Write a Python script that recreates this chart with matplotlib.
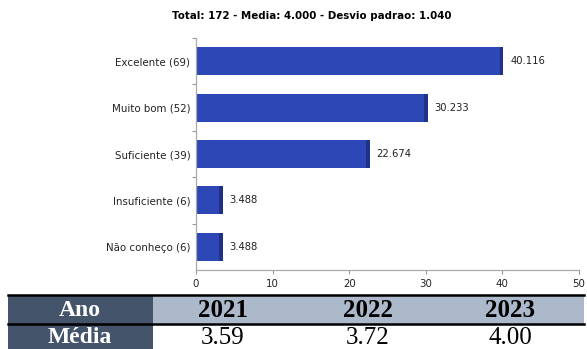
import matplotlib.pyplot as plt
from matplotlib.patches import Rectangle

categories = ["Excelente (69)", "Muito bom (52)", "Suficiente (39)", "Insuficiente (6)", "Não conheço (6)"]
percents = [40.116, 30.233, 22.674, 3.488, 3.488]
title = "Total: 172 - Media: 4.000 - Desvio padrao: 1.040"

years = ["2021", "2022", "2023"]
year_means = ["3.59", "3.72", "4.00"]

W, H = 587, 349
fig = plt.figure(figsize=(W / 100, H / 100), dpi=100)


def fx(px):
    return px / W


def fy(py):
    return 1 - py / H


# ---------------------------
# Bar chart
# ---------------------------
ax = fig.add_axes([fx(196), fy(270), fx(579 - 196), (270 - 38) / H])
ypos = list(range(len(categories)))
bars = ax.barh(ypos, percents, height=0.6, color="#2d47b6", edgecolor="none", zorder=2)
# darker right edge on each bar
for b in bars:
    x1 = b.get_x() + b.get_width()
    ax.add_patch(Rectangle((x1 - 0.45, b.get_y()), 0.45, b.get_height(),
                           color="#1f3286", lw=0, zorder=3))
for y, v in zip(ypos, percents):
    ax.text(v + 0.9, y, f"{v:.3f}", va="center", ha="left", fontsize=7.2, color="#222222")

ax.set_xlim(0, 50)
ax.set_ylim(len(categories) - 0.5, -0.5)
ax.set_xticks([0, 10, 20, 30, 40, 50])
ax.set_yticks(ypos)
ax.set_yticklabels(categories)
ax.tick_params(axis="both", labelsize=7.4, colors="#999999", length=3, width=0.8)
for lbl in ax.get_xticklabels() + ax.get_yticklabels():
    lbl.set_color("#222222")
ax.set_yticks([y + 0.5 for y in ypos[:-1]] + [-0.5], minor=True)
ax.tick_params(axis="y", which="major", length=0, pad=4)
ax.tick_params(axis="y", which="minor", length=3, colors="#999999", width=0.8)
for s in ["top", "right"]:
    ax.spines[s].set_visible(False)
for s in ["left", "bottom"]:
    ax.spines[s].set_color("#aaaaaa")
    ax.spines[s].set_linewidth(0.9)

fig.text(fx(312), fy(16), title, ha="center", va="center", fontsize=7.4, fontweight="bold")

# ---------------------------
# Summary table
# ---------------------------
dark = "#44546a"
light = "#acb9ca"
x_left, x_split, x_right = 8, 153, 584
row1_top, row1_bot, row2_bot = 295, 324, 349

fig.add_artist(Rectangle((fx(x_left), fy(row1_bot)), fx(x_split - x_left), (row1_bot - row1_top) / H,
                         transform=fig.transFigure, color=dark, lw=0))
fig.add_artist(Rectangle((fx(x_split), fy(row1_bot)), fx(x_right - x_split), (row1_bot - row1_top) / H,
                         transform=fig.transFigure, color=light, lw=0))
fig.add_artist(Rectangle((fx(x_left), fy(row2_bot)), fx(x_split - x_left), (row2_bot - row1_bot) / H,
                         transform=fig.transFigure, color=dark, lw=0))
for yline in [row1_top, row1_bot]:
    fig.add_artist(plt.Line2D([fx(x_left), fx(x_right)], [fy(yline), fy(yline)],
                              transform=fig.transFigure, color="black", lw=1.8))

serif = "Liberation Serif"
fig.text(fx(80), fy(310.5), "Ano", ha="center", va="center", fontsize=17,
         fontweight="bold", color="white", family=serif)
fig.text(fx(80), fy(337.5), "Média", ha="center", va="center", fontsize=17,
         fontweight="bold", color="white", family=serif)
col_x = [223, 368, 510]
for cx, yr, m in zip(col_x, years, year_means):
    fig.text(fx(cx), fy(310.5), yr, ha="center", va="center", fontsize=18,
             fontweight="bold", color="black", family=serif)
    fig.text(fx(cx), fy(337.5), m, ha="center", va="center", fontsize=18,
             color="black", family=serif)

fig.savefig("out.png", dpi=100)
